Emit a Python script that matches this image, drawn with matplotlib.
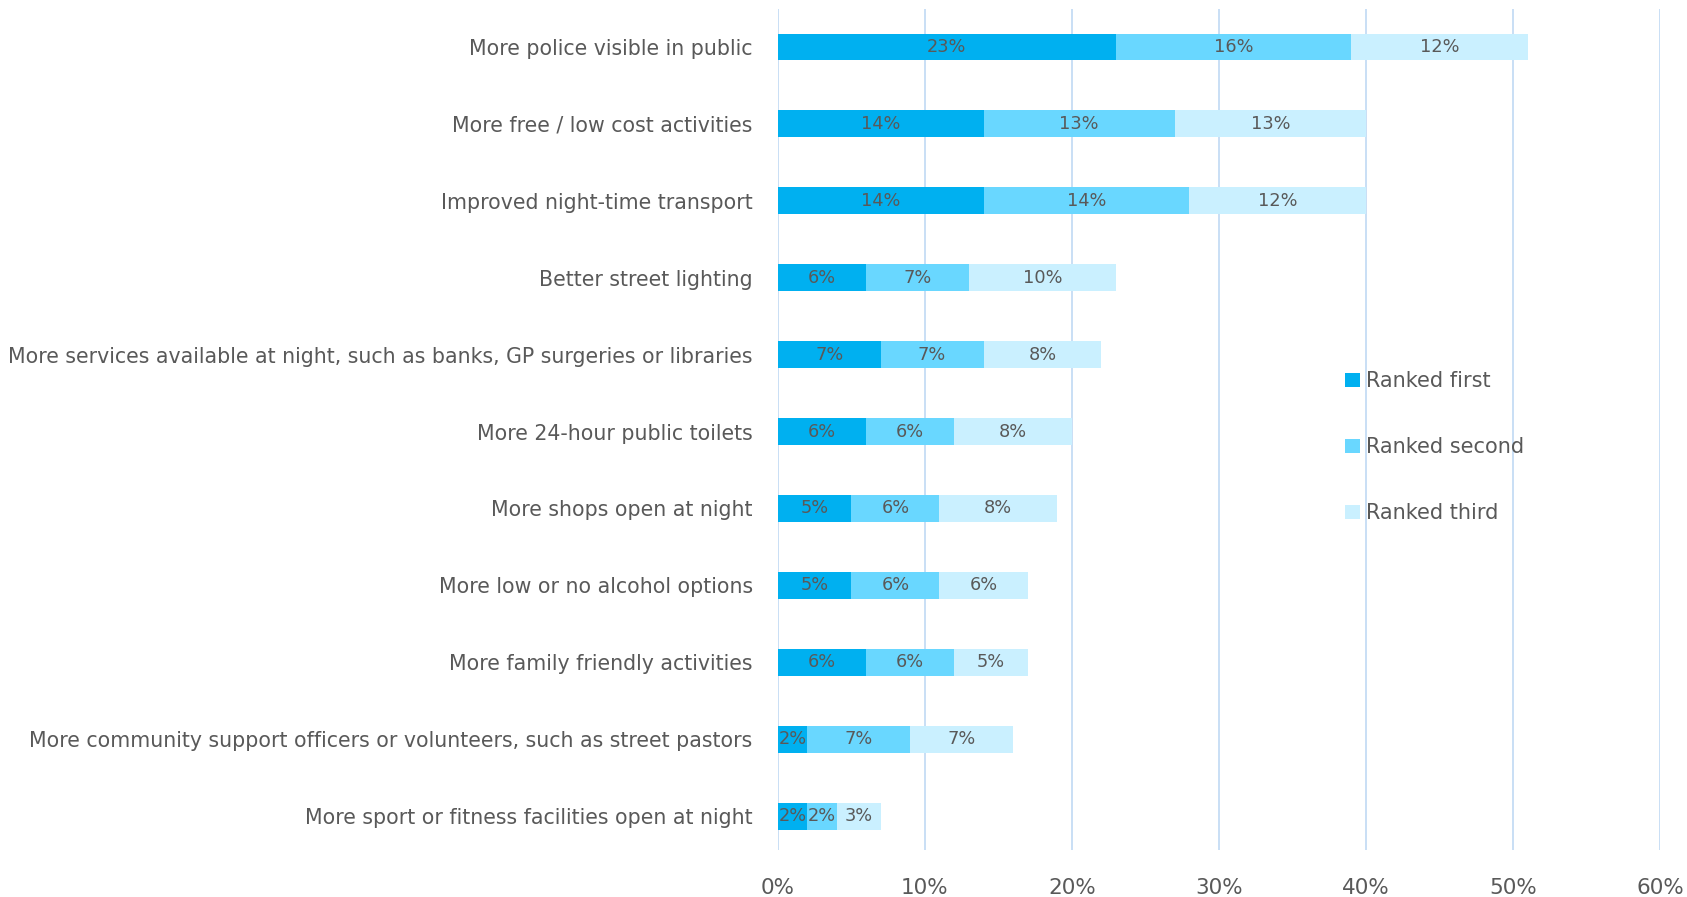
import numpy as np
import matplotlib.pyplot as plt

plt.rcParams['font.family'] = ['DejaVu Sans']

categories = [
    "More police visible in public",
    "More free / low cost activities",
    "Improved night-time transport",
    "Better street lighting",
    "More services available at night, such as banks, GP surgeries or libraries",
    "More 24-hour public toilets",
    "More shops open at night",
    "More low or no alcohol options",
    "More family friendly activities",
    "More community support officers or volunteers, such as street pastors",
    "More sport or fitness facilities open at night",
]
ranked_first = [23, 14, 14, 6, 7, 6, 5, 5, 6, 2, 2]
ranked_second = [16, 13, 14, 7, 7, 6, 6, 6, 6, 7, 2]
ranked_third = [12, 13, 12, 10, 8, 8, 8, 6, 5, 7, 3]
series_names = ["Ranked first", "Ranked second", "Ranked third"]
colors = ["#00B0F0", "#69D7FF", "#CAF0FF"]
text_col = "#595959"

fig = plt.figure(figsize=(16.87, 8.97), dpi=100)
ax = fig.add_axes([0.461, 0.0524, 0.523, 0.9376])

y = np.arange(len(categories))
left = np.zeros(len(categories))
for vals, name, c in zip([ranked_first, ranked_second, ranked_third], series_names, colors):
    vals = np.array(vals)
    bars = ax.barh(y, vals, left=left, height=0.35, color=c, label=name, zorder=2)
    # value labels in the middle of each segment
    for b, v in zip(bars, vals):
        ax.text(b.get_x() + b.get_width() / 2, b.get_y() + b.get_height() / 2,
                f"{v}%", ha="center", va="center", fontsize=12.8, color=text_col, zorder=3)
    left += vals

ax.set_xlim(0, 60)
ax.set_ylim(len(categories) - 0.56, -0.494)
ax.set_xticks(np.arange(0, 61, 10))
ax.set_xticklabels([f"{t}%" for t in range(0, 61, 10)])
ax.set_yticks(y)
ax.set_yticklabels(categories)
ax.tick_params(axis="x", length=0, pad=20, labelsize=15.5, labelcolor=text_col)
ax.tick_params(axis="y", length=0, pad=18, labelsize=14.8, labelcolor=text_col)
ax.grid(axis="x", color="#C5DCF5", linewidth=1.3, zorder=0)
for s in ax.spines.values():
    s.set_visible(False)

leg = ax.legend(loc="upper left", bbox_to_anchor=(0.643, 0.569), frameon=False,
                fontsize=15, labelspacing=2.2, handlelength=0.7, handleheight=0.7,
                handletextpad=0.3, borderaxespad=0, borderpad=0)
for t in leg.get_texts():
    t.set_color(text_col)

fig.savefig("out.png", dpi=100)
